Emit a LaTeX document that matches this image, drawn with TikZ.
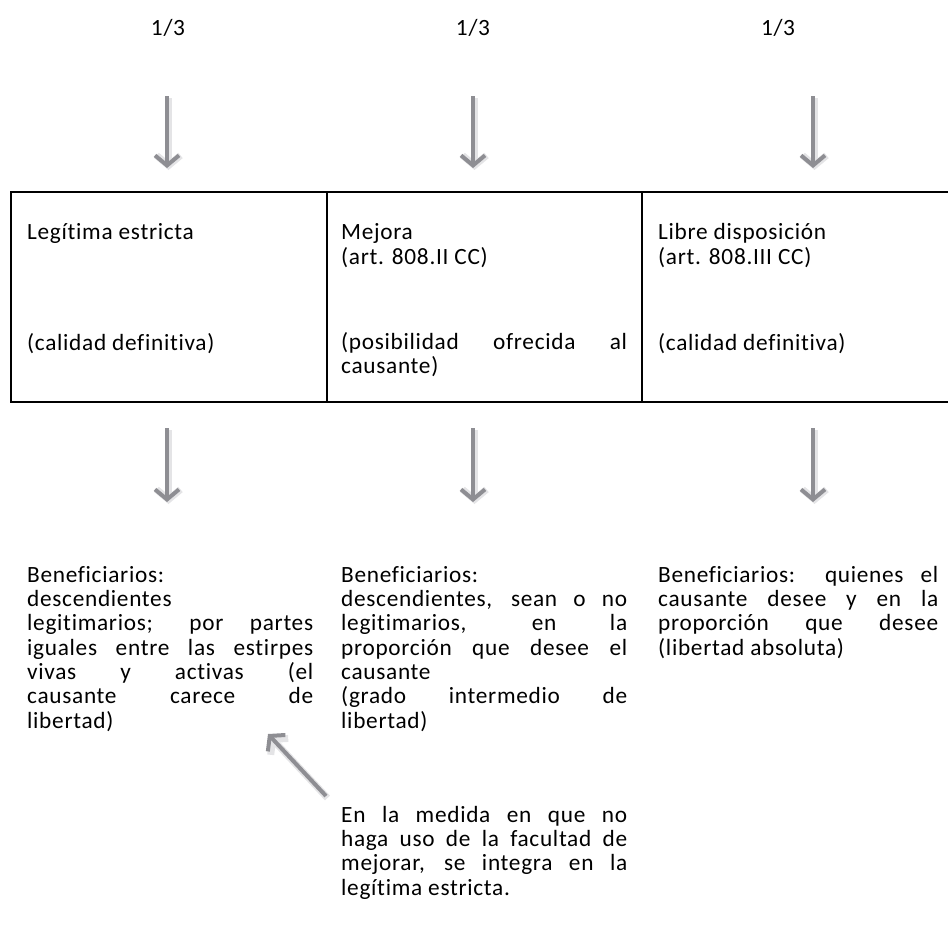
\documentclass[tikz,border=0pt]{standalone}
\usepackage{fontspec}
\setmainfont{Carlito}[LetterSpace=3, Ligatures={NoCommon}]
\usetikzlibrary{arrows.meta}
\definecolor{arrgray}{HTML}{8E8E93}
\definecolor{glowgray}{HTML}{E4E4E6}
\tikzset{
  garrow/.style={draw=arrgray, line width=4pt, -{Straight Barb[length=10pt,width=24pt]}},
  gshadow/.style={draw=glowgray, line width=7pt, -{Straight Barb[length=10pt,width=24pt]}, transform canvas={shift={(1.5pt,-2pt)}}},
  txt/.style={font=\fontsize{23.3}{24.3}\selectfont},
  cell/.style={txt, anchor=base west, inner sep=0pt},
  para/.style={txt, anchor=north west, inner sep=0pt, align=justify},
  frac/.style={txt, anchor=base, inner sep=0pt},
  tline/.style={line width=1.6pt, draw=black}
}
\begin{document}
\begin{tikzpicture}[x=1pt,y=-1pt]
\useasboundingbox (0,0) rectangle (948,945);
% fractions
\node[frac] (f1) at (168,35) {1/3};
\node[frac] (f2) at (473,35) {1/3};
\node[frac] (f3) at (778,35) {1/3};
% top arrows
\coordinate (a1s) at (167,96); \coordinate (a1e) at (167,168);
\coordinate (a2s) at (473,96); \coordinate (a2e) at (473,168);
\coordinate (a3s) at (813,96); \coordinate (a3e) at (813,168);
% bottom arrows
\coordinate (b1s) at (167,428); \coordinate (b1e) at (167,502);
\coordinate (b2s) at (473,428); \coordinate (b2e) at (473,502);
\coordinate (b3s) at (813,428); \coordinate (b3e) at (813,502);
% diagonal arrow
\coordinate (ds) at (326,796);
\coordinate (de) at (268,734);
\foreach \s/\e in {a1s/a1e,a2s/a2e,a3s/a3e,b1s/b1e,b2s/b2e,b3s/b3e,ds/de}{
  \draw[gshadow] (\s) -- (\e);
}
\foreach \s/\e in {a1s/a1e,a2s/a2e,a3s/a3e,b1s/b1e,b2s/b2e,b3s/b3e,ds/de}{
  \draw[garrow] (\s) -- (\e);
}
% table
\coordinate (tl) at (11,192); \coordinate (tr) at (948,192);
\coordinate (bl) at (11,402); \coordinate (br) at (948,402);
\coordinate (d1t) at (327,192); \coordinate (d1b) at (327,402);
\coordinate (d2t) at (642,192); \coordinate (d2b) at (642,402);
\draw[tline] (tr) -- (tl) -- (bl) -- (br);
\draw[tline] (d1t) -- (d1b);
\draw[tline] (d2t) -- (d2b);
% table texts
\node[cell] (c1a) at (27,239) {Legítima estricta};
\node[cell] (c1b) at (27,350) {(calidad definitiva)};
\node[cell] (c2a) at (341,239) {Mejora};
\node[cell] (c2b) at (341,264) {(art. 808.II CC)};
\node[para, text width=286pt] (c2c) at (341,332) {(posibilidad ofrecida al\linebreak causante)};
\node[cell] (c3a) at (658,239) {Libre disposición};
\node[cell] (c3b) at (658,264) {(art. 808.III CC)};
\node[cell] (c3c) at (658,350) {(calidad definitiva)};
% beneficiary paragraphs
\node[para, text width=286pt] (p1) at (27,566) {Beneficiarios:\linebreak descendientes\linebreak legitimarios; por partes\linebreak iguales entre las estirpes\linebreak vivas y activas (el\linebreak causante carece de\linebreak libertad)};
\node[para, text width=286pt] (p2) at (341,566) {Beneficiarios:\linebreak descendientes, sean o no\linebreak legitimarios, en la\linebreak proporción que desee el\linebreak causante\\ (grado intermedio de\linebreak libertad)};
\node[para, text width=280pt] (p3) at (658,566) {Beneficiarios: quienes el\linebreak causante desee y en la\linebreak proporción que desee\linebreak (libertad absoluta)};
\node[para, text width=286pt] (p4) at (341,806) {En la medida en que no\linebreak haga uso de la facultad de\linebreak mejorar, se integra en la\linebreak legítima estricta.};
\end{tikzpicture}
\end{document}
